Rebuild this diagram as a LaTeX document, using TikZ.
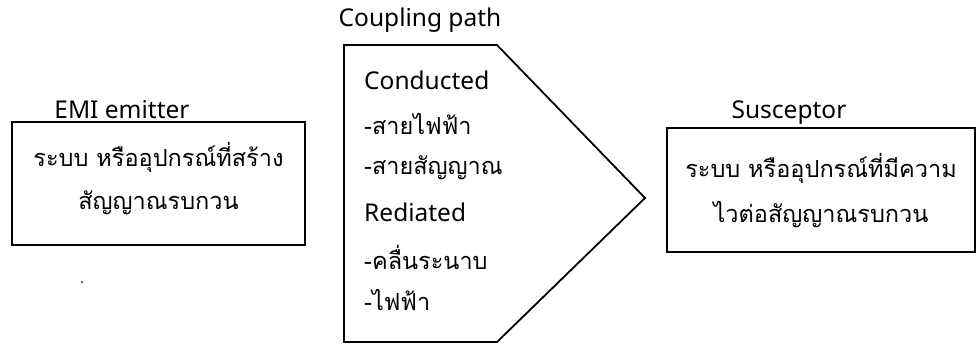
\documentclass[tikz,border=0pt]{standalone}
\usepackage{fontspec}
\setmainfont{Noto Sans}
\newfontfamily\thaifont[Script=Thai]{Loma}
\begin{document}
\begin{tikzpicture}[x=1pt,y=-1pt,
  boxline/.style={draw=black,line width=1.8pt},
  lat/.style={font=\fontsize{24.5}{28}\selectfont,inner sep=0pt},
  thai/.style={font=\thaifont\fontsize{23.5}{28}\selectfont,inner sep=0pt}]
\useasboundingbox (0,0) rectangle (978,345);
% left box
\node[boxline,minimum width=293pt,minimum height=123pt,inner sep=0pt] (emi) at (158.5,183.5) {};
\node[lat] (emil) at (122,110) {EMI emitter};
\node[thai] (emi1) at (158.5,157) {ระบบ หรืออุปกรณ์ที่สร้าง};
\node[thai] (emi2) at (158.5,203) {สัญญาณรบกวน};
\fill (82,282) circle (1pt);
% coupling path
\coordinate (p1) at (344,45);
\coordinate (p2) at (497,45);
\coordinate (p3) at (645,198);
\coordinate (p4) at (497,342);
\coordinate (p5) at (344,342);
\draw[boxline,line join=miter] (p1) -- (p2) -- (p3) -- (p4) -- (p5) -- cycle;
\node[lat] (cpl) at (420,20) {Coupling path};
\node[lat,anchor=west] (c1) at (364,80) {Conducted};
\node[thai,anchor=west] (c2) at (364,124) {-สายไฟฟ้า};
\node[thai,anchor=west] (c3) at (364,168) {-สายสัญญาณ};
\node[lat,anchor=west] (c4) at (364,212) {Rediated};
\node[thai,anchor=west] (c5) at (364,257) {-คลื่นระนาบ};
\node[thai,anchor=west] (c6) at (364,300) {-ไฟฟ้า};
% right box
\node[boxline,minimum width=308pt,minimum height=124pt,inner sep=0pt] (sus) at (821,190) {};
\node[lat] (susl) at (789,113) {Susceptor};
\node[thai] (sus1) at (821,168) {ระบบ หรืออุปกรณ์ที่มีความ};
\node[thai] (sus2) at (821,215) {ไวต่อสัญญาณรบกวน};
\end{tikzpicture}
\end{document}
